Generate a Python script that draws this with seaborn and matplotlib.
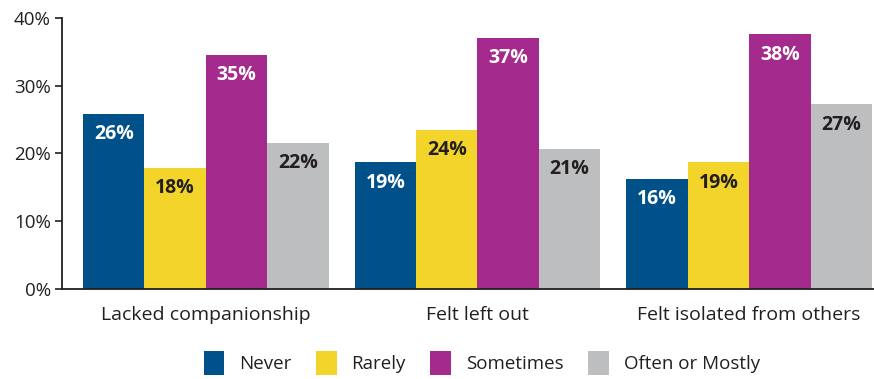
import matplotlib
matplotlib.use("Agg")
import matplotlib.pyplot as plt
import seaborn as sns
import pandas as pd
from matplotlib.patches import Patch

# Survey data: share of respondents (%) by frequency
items = ["Lacked companionship", "Felt left out", "Felt isolated from others"]
frequencies = ["Never", "Rarely", "Sometimes", "Often or Mostly"]
never = [25.9, 18.7, 16.3]
rarely = [17.9, 23.5, 18.7]
sometimes = [34.6, 37.1, 37.6]
often = [21.6, 20.7, 27.3]
yticks = [0, 10, 20, 30, 40]

colors = ["#00508A", "#F3D42A", "#A52A8E", "#BDBEC0"]
label_colors = ["white", "#231F20", "white", "#231F20"]

rows = []
for freq, vals in zip(frequencies, [never, rarely, sometimes, often]):
    for item, v in zip(items, vals):
        rows.append({"item": item, "frequency": freq, "pct": v})
df = pd.DataFrame(rows)

sns.set_theme(style="white")
plt.rcParams["font.family"] = ["Open Sans", "DejaVu Sans"]

fig = plt.figure(figsize=(8.74, 3.79), dpi=100)
ax = fig.add_axes([0.0709, 0.2375, 0.9291, 0.715])

sns.barplot(data=df, x="item", y="pct", hue="frequency", order=items,
            hue_order=frequencies, palette=colors, width=0.905,
            saturation=1, edgecolor="none", linewidth=0, ax=ax, legend=False)

for container, tc in zip(ax.containers, label_colors):
    ax.bar_label(container, labels=[f"{v:.0f}%" for v in container.datavalues],
                 padding=-22, color=tc, fontsize=14, fontweight="bold")

ax.set_xlim(-0.53, 2.46)
ax.set_ylim(0, 40)
ax.set_yticks(yticks)
ax.set_yticklabels([f"{t}%" for t in yticks], fontsize=13.5, color="#231F20")
ax.tick_params(axis="y", length=5, width=1.2, color="#231F20", pad=3, left=True)
ax.tick_params(axis="x", length=0, pad=12, labelsize=14, labelcolor="#231F20")
ax.set_xlabel("")
ax.set_ylabel("")

for side in ["top", "right"]:
    ax.spines[side].set_visible(False)
for side in ["left", "bottom"]:
    ax.spines[side].set_color("#231F20")
    ax.spines[side].set_linewidth(1.3)

handles = [Patch(facecolor=c, edgecolor="none") for c in colors]
fig.legend(handles, frequencies, loc="lower center", bbox_to_anchor=(0.551, -0.035),
           ncol=4, frameon=False, fontsize=13.5, handlelength=1.1, handleheight=1.6,
           handletextpad=0.8, columnspacing=1.3, labelcolor="#231F20")

fig.savefig("out.png", dpi=100)
